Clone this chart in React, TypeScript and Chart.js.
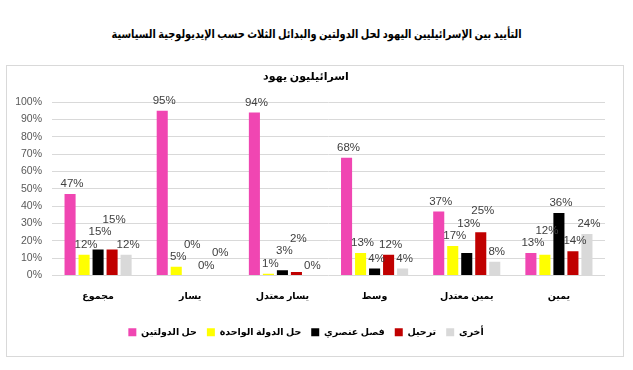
import React, { useEffect, useRef } from "react";
import { Chart, registerables } from "chart.js";

Chart.register(...registerables);

const pageTitle =
  "التأييد بين الإسرائيليين اليهود لحل الدولتين والبدائل الثلاث حسب الإيديولوجية السياسية";
const chartTitle = "اسرائيليون يهود";

const categories = ["مجموع", "يسار", "يسار معتدل", "وسط", "يمين معتدل", "يمين"];
const seriesNames = ["حل الدولتين", "حل الدولة الواحدة", "فصل عنصري", "ترحيل", "أخرى"];

const twoState = [47, 95, 94, 68, 37, 13];
const oneState = [12, 5, 1, 13, 17, 12];
const apartheid = [15, 0, 3, 4, 13, 36];
const expulsion = [15, 0, 2, 12, 25, 14];
const other = [12, 0, 0, 4, 8, 24];

const seriesValues = [twoState, oneState, apartheid, expulsion, other];
const seriesColors = ["#F046B2", "#FFFF00", "#000000", "#C00000", "#D9D9D9"];

const yMax = 100;
const yStep = 10;

const arabicFont = "'Times New Roman', 'Liberation Serif', 'DejaVu Sans', serif";
const latinFont = "'Liberation Sans', Arial, sans-serif";

const labelPlugin = {
  id: "barLabels",
  afterDatasetsDraw(chart: any) {
    const ctx = chart.ctx;
    ctx.save();
    ctx.font = `11.5px ${latinFont}`;
    ctx.fillStyle = "#404040";
    ctx.textAlign = "center";
    ctx.textBaseline = "middle";
    const n = chart.data.labels.length;
    const h = 12.5;
    for (let i = 0; i < n; i++) {
      const placed: { x: number; y: number; w: number }[] = [];
      chart.data.datasets.forEach((ds: any, di: number) => {
        const meta = chart.getDatasetMeta(di);
        const bar = meta.data[i];
        const text = ds.data[i] + "%";
        const w = ctx.measureText(text).width;
        const x = bar.x + 2;
        let cy = bar.y - 10;
        let moved = true;
        let guard = 0;
        while (moved && guard < 20) {
          moved = false;
          guard++;
          for (const r of placed) {
            if (Math.abs(r.x - x) < (r.w + w) / 2 && Math.abs(r.y - cy) < h) {
              cy = r.y - h;
              moved = true;
            }
          }
        }
        placed.push({ x, y: cy, w });
        ctx.fillText(text, x, cy);
      });
    }
    ctx.restore();
  },
};

export default function App() {
  const canvasRef = useRef<HTMLCanvasElement | null>(null);
  const titleRef = useRef<HTMLSpanElement | null>(null);

  useEffect(() => {
    const t = titleRef.current;
    if (t) {
      const w = t.offsetWidth;
      if (w > 0) t.style.transform = `scaleX(${410 / w})`;
    }
  }, []);

  useEffect(() => {
    if (!canvasRef.current) return;
    const chart = new Chart(canvasRef.current, {
      type: "bar",
      data: {
        labels: categories,
        datasets: seriesNames.map((name, k) => ({
          label: name,
          data: seriesValues[k],
          backgroundColor: seriesColors[k],
          borderWidth: 0,
          categoryPercentage: 0.76,
          barPercentage: 0.79,
        })),
      },
      options: {
        animation: false,
        responsive: false,
        maintainAspectRatio: false,
        layout: { padding: { left: 0, right: 18, top: 0, bottom: 9 } },
        plugins: {
          title: {
            display: true,
            text: chartTitle,
            color: "#000",
            font: { family: arabicFont, size: 11, weight: "bold" },
            padding: { top: 5, bottom: 18 },
          },
          legend: {
            position: "bottom",
            labels: {
              boxWidth: 8,
              boxHeight: 8,
              padding: 10,
              color: "#000",
              font: { family: arabicFont, size: 9.5, weight: "bold" },
            },
          },
          tooltip: { enabled: false },
        },
        scales: {
          x: {
            grid: { display: false, drawTicks: false },
            border: { display: false },
            ticks: {
              color: "#000",
              padding: 15,
              font: { family: arabicFont, size: 9.5, weight: "bold" },
            },
            afterFit: (s: any) => {
              s.height = 42;
            },
          },
          y: {
            min: 0,
            max: yMax,
            grid: { color: "#D9D9D9", drawTicks: false },
            border: { display: false },
            ticks: {
              stepSize: yStep,
              color: "#595959",
              padding: 10,
              font: { family: latinFont, size: 10.5 },
              callback: (v: any) => v + "%",
            },
            afterFit: (s: any) => {
              s.width = 45;
            },
          },
        },
      },
      plugins: [labelPlugin],
    });
    return () => chart.destroy();
  }, []);

  return (
    <div
      style={{
        position: "absolute",
        left: 0,
        top: 0,
        width: 633,
        height: 370,
        background: "#fff",
      }}
    >
      <div
        style={{
          position: "absolute",
          left: 0,
          top: 25,
          width: 633,
          textAlign: "center",
          direction: "rtl",
          whiteSpace: "nowrap",
          lineHeight: "16px",
        }}
      >
        <span
          ref={titleRef}
          style={{
            display: "inline-block",
            fontFamily: arabicFont,
            fontWeight: "bold",
            fontSize: 11.5,
            color: "#000",
            transformOrigin: "center",
          }}
        >
          {pageTitle}
        </span>
      </div>
      <div
        style={{
          position: "absolute",
          left: 6,
          top: 65,
          width: 616,
          height: 290,
          border: "1px solid #D9D9D9",
        }}
      >
        <canvas ref={canvasRef} width={616} height={290} style={{ display: "block" }} />
      </div>
    </div>
  );
}
